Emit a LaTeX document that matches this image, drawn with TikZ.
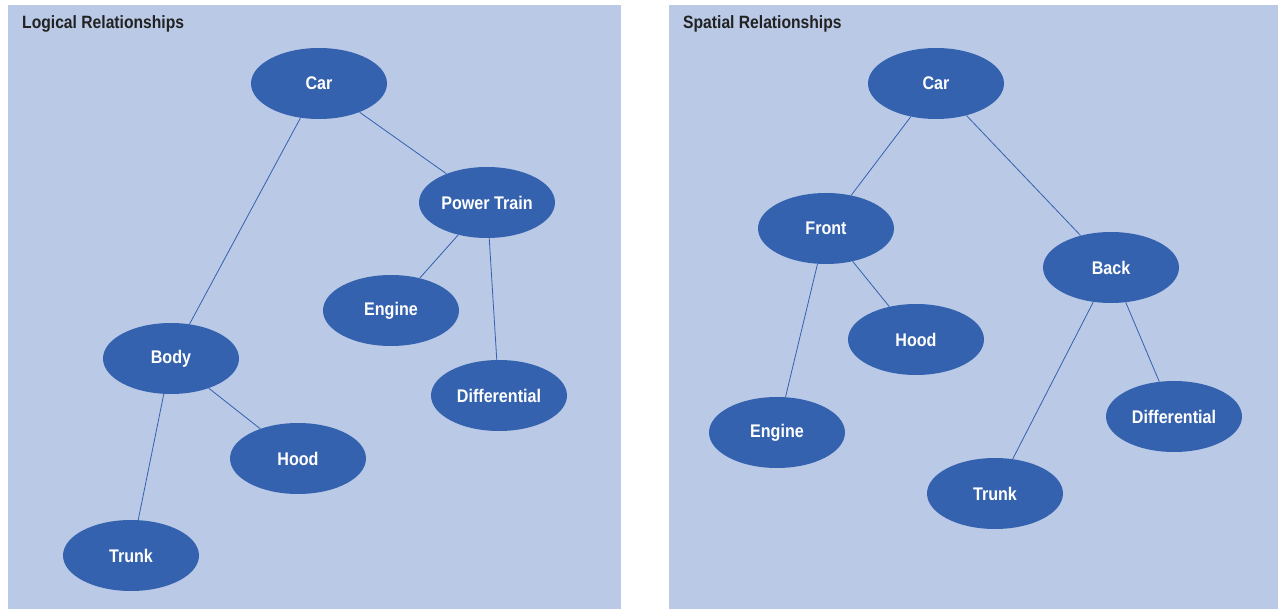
\documentclass[tikz,border=0pt]{standalone}
\usepackage{fontspec}
\setmainfont[FakeStretch=0.88]{Liberation Sans}
\usetikzlibrary{shapes.geometric}
\definecolor{panelbg}{HTML}{B9C9E6}
\definecolor{nodeblue}{HTML}{3462AE}
\definecolor{titlegray}{HTML}{222222}
\tikzset{
  panel/.style={fill=panelbg, draw=none},
  ell/.style={ellipse, fill=nodeblue, draw=none, minimum width=136pt, minimum height=71pt, inner sep=0pt,
    text=white, font=\fontsize{18.3}{20}\selectfont\bfseries},
  ttl/.style={anchor=base west, text=titlegray, inner sep=0pt, font=\fontsize{17.8}{19}\selectfont\bfseries},
  link/.style={draw=nodeblue, line width=0.8pt}
}
\begin{document}
\begin{tikzpicture}[x=1pt, y=-1pt]
\useasboundingbox (0,0) rectangle (1278,609);
\fill[white] (0,0) rectangle (1278,609);
\path[panel] (8,5) rectangle (621,609);
\path[panel] (669,5) rectangle (1278,609);
\node[ttl] (t1) at (22,29) {Logical Relationships};
\node[ttl] (t2) at (683,29) {Spatial Relationships};
% left
\node[ell] (lcar) at (319,83.5) {Car};
\node[ell] (lpt) at (487,202.5) {Power Train};
\node[ell] (leng) at (391,310.5) {Engine};
\node[ell] (ldiff) at (499,395.5) {Differential};
\node[ell] (lbody) at (171,358.5) {Body};
\node[ell] (lhood) at (298,458.5) {Hood};
\node[ell] (ltrunk) at (131,555.5) {Trunk};
\draw[link] (lcar) -- (lpt);
\draw[link] (lcar) -- (lbody);
\draw[link] (lpt) -- (leng);
\draw[link] (lpt) -- (ldiff);
\draw[link] (lbody) -- (lhood);
\draw[link] (lbody) -- (ltrunk);
% right
\node[ell] (rcar) at (936,83.5) {Car};
\node[ell] (rfront) at (826,228.5) {Front};
\node[ell] (rback) at (1111,267.5) {Back};
\node[ell] (rhood) at (916,339.5) {Hood};
\node[ell] (reng) at (777,432.5) {Engine};
\node[ell] (rdiff) at (1174,416.5) {Differential};
\node[ell] (rtrunk) at (995,493.5) {Trunk};
\draw[link] (rcar) -- (rfront);
\draw[link] (rcar) -- (rback);
\draw[link] (rfront) -- (rhood);
\draw[link] (rfront) -- (reng);
\draw[link] (rback) -- (rtrunk);
\draw[link] (rback) -- (rdiff);
\end{tikzpicture}
\end{document}
